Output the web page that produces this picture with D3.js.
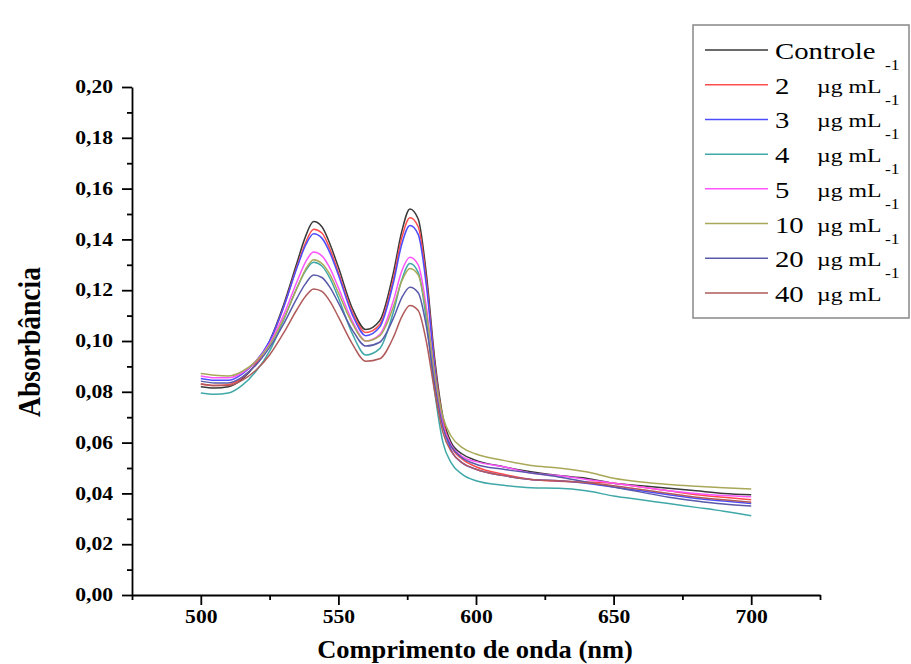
<!DOCTYPE html>
<html>
<head>
<meta charset="utf-8">
<script src="https://cdn.jsdelivr.net/npm/d3@7"></script>
<style>
  body { margin: 0; background: #fff; }
  svg { display: block; }
  text { font-family: "Liberation Serif", "Times New Roman", serif; fill: #000; }
  .axis path, .axis line { stroke: #000; stroke-width: 1.8px; }
  .axis text { font-weight: bold; font-size: 18px; }
</style>
</head>
<body>
<svg width="911" height="664"></svg>
<script>
// comprimento de onda (nm)
const wavelengths = [500, 505, 510, 515, 520, 525, 530, 535, 538, 541, 544, 547, 550, 555, 560, 565, 570, 573, 576, 579, 582, 585, 588, 591, 595, 600, 610, 620, 630, 640, 650, 660, 670, 680, 690, 700];

const controle = [0.0820, 0.0815, 0.0820, 0.0850, 0.0910, 0.1000, 0.1140, 0.1310, 0.1410, 0.1470, 0.1450, 0.1380, 0.1290, 0.1130, 0.1045, 0.1080, 0.1270, 0.1430, 0.1520, 0.1480, 0.1260, 0.0930, 0.0700, 0.0600, 0.0555, 0.0530, 0.0505, 0.0485, 0.0470, 0.0460, 0.0440, 0.0430, 0.0420, 0.0410, 0.0400, 0.0395];
const c2 = [0.0830, 0.0825, 0.0828, 0.0855, 0.0910, 0.0995, 0.1130, 0.1295, 0.1385, 0.1440, 0.1425, 0.1360, 0.1270, 0.1115, 0.1033, 0.1065, 0.1245, 0.1405, 0.1485, 0.1450, 0.1235, 0.0910, 0.0685, 0.0585, 0.0535, 0.0505, 0.0475, 0.0455, 0.0448, 0.0445, 0.0440, 0.0425, 0.0410, 0.0395, 0.0385, 0.0375];
const c3 = [0.0852, 0.0845, 0.0845, 0.0870, 0.0920, 0.1000, 0.1130, 0.1290, 0.1375, 0.1422, 0.1405, 0.1345, 0.1260, 0.1105, 0.1021, 0.1055, 0.1230, 0.1380, 0.1455, 0.1420, 0.1215, 0.0895, 0.0670, 0.0570, 0.0520, 0.0495, 0.0470, 0.0455, 0.0450, 0.0440, 0.0425, 0.0410, 0.0395, 0.0380, 0.0370, 0.0360];
const c4 = [0.0795, 0.0790, 0.0795, 0.0825, 0.0880, 0.0960, 0.1080, 0.1210, 0.1275, 0.1310, 0.1295, 0.1245, 0.1170, 0.1030, 0.0945, 0.0970, 0.1115, 0.1240, 0.1305, 0.1270, 0.1080, 0.0800, 0.0600, 0.0520, 0.0475, 0.0450, 0.0432, 0.0422, 0.0420, 0.0410, 0.0390, 0.0375, 0.0360, 0.0345, 0.0330, 0.0312];
const c5 = [0.0862, 0.0855, 0.0855, 0.0875, 0.0920, 0.0990, 0.1100, 0.1235, 0.1310, 0.1350, 0.1335, 0.1285, 0.1210, 0.1080, 0.1000, 0.1025, 0.1160, 0.1275, 0.1330, 0.1300, 0.1130, 0.0860, 0.0670, 0.0590, 0.0545, 0.0525, 0.0505, 0.0480, 0.0470, 0.0455, 0.0440, 0.0425, 0.0410, 0.0400, 0.0392, 0.0387];
const c10 = [0.0872, 0.0865, 0.0862, 0.0880, 0.0920, 0.0985, 0.1085, 0.1210, 0.1280, 0.1320, 0.1305, 0.1260, 0.1190, 0.1070, 0.1000, 0.1020, 0.1135, 0.1235, 0.1285, 0.1260, 0.1110, 0.0870, 0.0700, 0.0625, 0.0580, 0.0555, 0.0530, 0.0510, 0.0500, 0.0485, 0.0460, 0.0445, 0.0435, 0.0428, 0.0422, 0.0417];
const c20 = [0.0842, 0.0835, 0.0835, 0.0858, 0.0905, 0.0975, 0.1065, 0.1170, 0.1225, 0.1260, 0.1250, 0.1210, 0.1150, 0.1045, 0.0980, 0.0995, 0.1090, 0.1170, 0.1212, 0.1190, 0.1055, 0.0830, 0.0660, 0.0585, 0.0540, 0.0515, 0.0495, 0.0480, 0.0465, 0.0445, 0.0425, 0.0405, 0.0385, 0.0370, 0.0358, 0.0350];
const c40 = [0.0832, 0.0825, 0.0825, 0.0845, 0.0885, 0.0945, 0.1030, 0.1125, 0.1175, 0.1205, 0.1195, 0.1155, 0.1095, 0.0990, 0.0920, 0.0930, 0.1015, 0.1095, 0.1140, 0.1120, 0.0995, 0.0800, 0.0640, 0.0565, 0.0520, 0.0495, 0.0470, 0.0455, 0.0450, 0.0442, 0.0430, 0.0415, 0.0400, 0.0385, 0.0375, 0.0365];

const seriesValues = [controle, c2, c3, c4, c5, c10, c20, c40];
const seriesNames = ["Controle", "2", "3", "4", "5", "10", "20", "40"];
const colors = ["#3a3a3a", "#ff4d4d", "#4d4dff", "#40a8a8", "#ff55ff", "#a8a858", "#5a5aaa", "#b05a5a"];

const yMajor = [0, 0.02, 0.04, 0.06, 0.08, 0.10, 0.12, 0.14, 0.16, 0.18, 0.20];
const yMinor = [0.01, 0.03, 0.05, 0.07, 0.09, 0.11, 0.13, 0.15, 0.17, 0.19];
const xMajor = [500, 550, 600, 650, 700];
const xMinor = [475, 525, 575, 625, 675, 725];

const svg = d3.select("svg");
const sx = 1.2; // the original text is stretched horizontally

const x = d3.scaleLinear().domain([475, 725]).range([132, 820]);
const y = d3.scaleLinear().domain([0, 0.20]).range([595, 87]);
const fmt = d => d3.format(".2f")(d).replace(".", ",");

// curves
const line = d3.line()
    .x(d => x(d[0]))
    .y(d => y(d[1]))
    .curve(d3.curveMonotoneX);

seriesValues.forEach((vals, i) => {
    svg.append("path")
        .datum(wavelengths.map((w, j) => [w, vals[j]]))
        .attr("fill", "none")
        .attr("stroke", colors[i])
        .attr("stroke-width", 1.5)
        .attr("d", line);
});

// y axis
const yAxis = svg.append("g").attr("class", "axis")
    .attr("transform", "translate(132,0)")
    .call(d3.axisLeft(y).tickValues(yMajor).tickSize(10).tickSizeOuter(0).tickFormat(fmt));
yAxis.selectAll("text")
    .attr("x", -19 / sx)
    .attr("transform", `scale(${sx},1)`);
svg.append("g").attr("class", "axis")
    .attr("transform", "translate(132,0)")
    .call(d3.axisLeft(y).tickValues(yMinor).tickSize(5).tickFormat(""))
    .select(".domain").remove();

// x axis
const xAxis = svg.append("g").attr("class", "axis")
    .attr("transform", "translate(0,595)")
    .call(d3.axisBottom(x).tickValues(xMajor).tickSize(10).tickSizeOuter(0).tickFormat(d3.format("d")));
xAxis.selectAll("text")
    .attr("y", 15)
    .attr("transform", `scale(${sx},1)`);
svg.append("g").attr("class", "axis")
    .attr("transform", "translate(0,595)")
    .call(d3.axisBottom(x).tickValues(xMinor).tickSize(5).tickFormat(""))
    .select(".domain").remove();

// axis titles
svg.append("text")
    .attr("transform", `translate(475,658) scale(1.06,1)`)
    .attr("text-anchor", "middle")
    .style("font-weight", "bold")
    .style("font-size", "25px")
    .text("Comprimento de onda (nm)");

svg.append("text")
    .attr("transform", "translate(40,342) rotate(-90) scale(1.06,1.2)")
    .attr("text-anchor", "middle")
    .style("font-weight", "bold")
    .style("font-size", "26px")
    .text("Absorbância");

// legend
const legend = svg.append("g");
legend.append("rect")
    .attr("x", 693).attr("y", 25)
    .attr("width", 216).attr("height", 293)
    .attr("fill", "#fff")
    .attr("stroke", "#888")
    .attr("stroke-width", 1.5);

const rowY = d3.scaleLinear().domain([0, 7]).range([50, 293]);
const ls = 1.25;

seriesNames.forEach((name, i) => {
    const ry = rowY(i);
    legend.append("line")
        .attr("x1", 705).attr("x2", 768)
        .attr("y1", ry).attr("y2", ry)
        .attr("stroke", colors[i])
        .attr("stroke-width", 1.5);
    legend.append("text")
        .attr("transform", `translate(775,${ry + 9}) scale(${ls},1)`)
        .style("font-size", "23px")
        .text(name);
    if (i > 0) {
        legend.append("text")
            .attr("transform", `translate(817,${ry + 8}) scale(${ls},1)`)
            .style("font-size", "19px")
            .text("µg mL");
    }
    if (i < seriesNames.length - 1) {
        legend.append("text")
            .attr("transform", `translate(885,${ry + 20}) scale(${ls},1)`)
            .style("font-size", "14px")
            .text("-1");
    }
});
</script>
</body>
</html>
